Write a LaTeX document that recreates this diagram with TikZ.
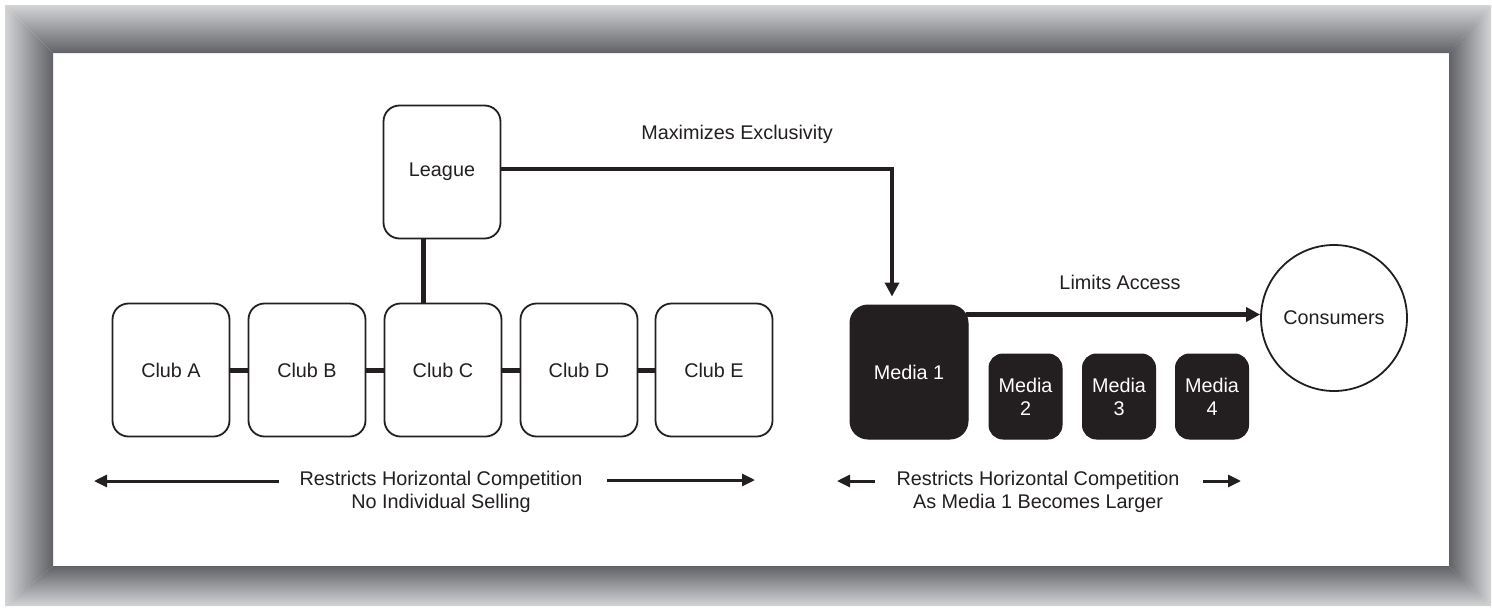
\documentclass[tikz,border=0pt]{standalone}
\usepackage{fontspec}
\setmainfont{Liberation Sans}
\usetikzlibrary{arrows.meta}
\definecolor{ink}{HTML}{231F20}
\definecolor{frameLight}{HTML}{D3D4D6}
\definecolor{frameDark}{HTML}{616267}

\begin{document}
\begin{tikzpicture}[x=1pt,y=-1pt,
  font=\fontsize{19.8}{23}\selectfont,
  club/.style={draw=ink, line width=1.8pt, rounded corners=16pt, fill=white,
    minimum width=117pt, minimum height=133pt, inner sep=0pt, text=ink, align=center},
  bigmedia/.style={draw=ink, fill=ink, line width=1pt, rounded corners=18pt,
    minimum width=118pt, minimum height=134pt, inner sep=0pt, text=white, align=center},
  smallmedia/.style={draw=ink, fill=ink, line width=1pt, rounded corners=14pt,
    minimum width=73pt, minimum height=85pt, inner sep=0pt, text=white, align=center},
  market/.style={circle, draw=ink, line width=1.8pt, minimum size=146pt, inner sep=0pt, text=ink},
  link/.style={draw=ink, line width=5pt},
  flow/.style={draw=ink, line width=4.5pt, -{Triangle[length=14pt,width=14pt]}},
  spread/.style={draw=ink, line width=3pt, -{Triangle[length=13pt,width=12pt]}},
  note/.style={text=ink, inner sep=0pt, align=center}]

\useasboundingbox (0,0) rectangle (1492,611);
\fill[white] (0,0) rectangle (1492,611);

% bevelled grey frame
\shade[top color=frameLight, bottom color=frameDark]
  (5,5) -- (1491,5) -- (1449,53) -- (53,53) -- cycle;
\shade[top color=frameDark, bottom color=frameLight]
  (53,566) -- (1449,566) -- (1491,606) -- (5,606) -- cycle;
\shade[left color=frameLight, right color=frameDark]
  (5,5) -- (53,53) -- (53,566) -- (5,606) -- cycle;
\shade[left color=frameDark, right color=frameLight]
  (1449,53) -- (1491,5) -- (1491,606) -- (1449,566) -- cycle;

% league and clubs
\node[club] (League) at (442,172) {League};
\node[club] (ClubA) at (171,370) {Club A};
\node[club] (ClubB) at (307,370) {Club B};
\node[club] (ClubC) at (443,370) {Club C};
\node[club] (ClubD) at (579,370) {Club D};
\node[club] (ClubE) at (714,370) {Club E};

\draw[link] (ClubA) -- (ClubB);
\draw[link] (ClubB) -- (ClubC);
\draw[link] (ClubC) -- (ClubD);
\draw[link] (ClubD) -- (ClubE);
\draw[link] ([xshift=-19pt]League.south) -- ([xshift=-20pt]ClubC.north);

% media companies and consumers
\node[bigmedia] (Media1) at (909,372) {Media 1};
\node[smallmedia] (Media2) at (1025.5,396.5) {Media\\2};
\node[smallmedia] (Media3) at (1119,396.5) {Media\\3};
\node[smallmedia] (Media4) at (1212,396.5) {Media\\4};
\node[market] (Consumers) at (1334,318) {Consumers};

\draw[flow] ([yshift=3pt]League.east) -| ([xshift=-17pt,yshift=8pt]Media1.north);
\node[note] (maxex) at (737,134) {Maximizes Exclusivity};

\coordinate (accessStart) at ([xshift=-3pt,yshift=-10pt]Media1.north east);
\draw[flow] (accessStart) -- (accessStart -| Consumers.west);
\node[note] (limits) at (1120,282) {Limits Access};

% horizontal restriction notes
\node[note] (clubnote) at (441,492) {Restricts Horizontal Competition\\No Individual Selling};
\node[note] (medianote) at (1038,492) {Restricts Horizontal Competition\\As Media 1 Becomes Larger};

\coordinate (cnL0) at (279,481);
\coordinate (cnL1) at (94,481);
\coordinate (cnR0) at (607,480);
\coordinate (cnR1) at (755,480);
\coordinate (mnL0) at (875,481);
\coordinate (mnL1) at (837,481);
\coordinate (mnR0) at (1203,481);
\coordinate (mnR1) at (1241,481);

\draw[spread] (cnL0) -- (cnL1);
\draw[spread] (cnR0) -- (cnR1);
\draw[spread] (mnL0) -- (mnL1);
\draw[spread] (mnR0) -- (mnR1);

\end{tikzpicture}
\end{document}
